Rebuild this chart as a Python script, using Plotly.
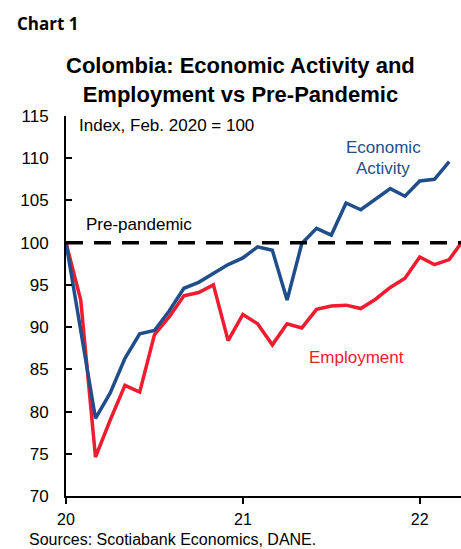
import plotly.graph_objects as go

# Months since Feb 2020 (0 = Feb 2020)
months = list(range(28))
economic_activity = [100.0, 89.6, 79.2, 82.2, 86.3, 89.2, 89.6, 91.9, 94.6, 95.3, 96.3, 97.4,
                     98.2, 99.5, 99.1, 93.2, 99.9, 101.7, 100.9, 104.7, 103.9, 105.1, 106.4,
                     105.5, 107.3, 107.5, 109.6]
employment = [100.0, 93.2, 74.6, 79.0, 83.1, 82.3, 89.1, 91.2, 93.7, 94.1, 95.0, 88.4,
              91.5, 90.4, 87.9, 90.4, 89.9, 92.1, 92.5, 92.6, 92.2, 93.3, 94.7, 95.8,
              98.3, 97.4, 98.0, 100.4]
tick_vals = [0, 12, 24]
tick_text = ["20", "21", "22"]
y_ticks = [70, 75, 80, 85, 90, 95, 100, 105, 110, 115]

BLUE = "#1F4E8A"
RED = "#EE1C2E"
FONT = "Liberation Sans"

fig = go.Figure()
fig.add_trace(go.Scatter(x=months[:len(employment)], y=employment, mode="lines",
                         line=dict(color=RED, width=3.5), showlegend=False))
fig.add_trace(go.Scatter(x=months[:len(economic_activity)], y=economic_activity, mode="lines",
                         line=dict(color=BLUE, width=3.5), showlegend=False))

fig.add_shape(type="line", xref="paper", x0=0, x1=1, yref="y", y0=100, y1=100,
              line=dict(color="black", width=3.5, dash="17px,11px"))

W, H = 395, 380
L, B = 66, 496
px = lambda x: (x - L) / W
py = lambda y: (B - y) / H

def ann(text, x, y, size=17, color="black", xanchor="left", yanchor="middle", family=FONT):
    fig.add_annotation(text=text, x=x, y=y, xref="paper", yref="paper",
                       xanchor=xanchor, yanchor=yanchor, showarrow=False, borderpad=0,
                       font=dict(family=family, size=size, color=color))

ann("<b>Chart 1</b>", px(16), py(23), size=17, family="Open Sans")
ann("<b>Colombia: Economic Activity and<br>Employment vs Pre-Pandemic</b>", px(240.5), py(80),
    size=22, xanchor="center")
ann("Index, Feb. 2020 = 100", px(78), py(126))
ann("Pre-pandemic", px(85), py(224))
ann("Economic", px(383), py(147), color=BLUE, xanchor="center")
ann("Activity", px(383), py(168), color=BLUE, xanchor="center")
ann("Employment", px(356), py(357), color=RED, xanchor="center")
ann("Sources: Scotiabank Economics, DANE.", px(28), py(548.5), size=16, yanchor="bottom")

fig.update_layout(
    width=461, height=549,
    margin=dict(l=66, r=0, t=116, b=53),
    paper_bgcolor="white", plot_bgcolor="white",
    font=dict(family=FONT, size=17, color="black"),
    xaxis=dict(range=[0, 26.8], tickmode="array", tickvals=tick_vals, ticktext=tick_text,
               showline=True, linecolor="black", linewidth=2, ticks="outside", ticklen=6,
               tickwidth=2, tickcolor="black", showgrid=False, zeroline=False,
               ticklabelstandoff=2, tickfont=dict(size=16)),
    yaxis=dict(range=[70, 115], tickmode="array", tickvals=y_ticks,
               showline=True, linecolor="black", linewidth=2, ticks="inside", ticklen=6,
               tickwidth=2, tickcolor="black", showgrid=False, zeroline=False,
               ticklabelstandoff=12),
)

fig.write_html("out.html")
